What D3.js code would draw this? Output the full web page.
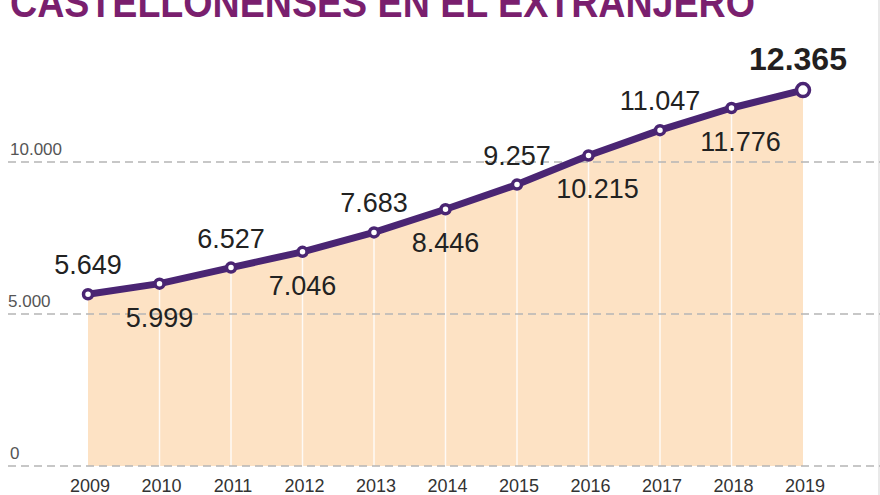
<!DOCTYPE html>
<html><head><meta charset="utf-8">
<script src="https://cdn.jsdelivr.net/npm/d3@7"></script>
<style>body{margin:0;background:#fff}svg{display:block}</style>
</head><body>
<svg id="c" width="880" height="495"></svg>
<script>
const title = "CASTELLONENSES EN EL EXTRANJERO";
const years = ["2009","2010","2011","2012","2013","2014","2015","2016","2017","2018","2019"];
const values = [5649,5999,6527,7046,7683,8446,9257,10215,11047,11776,12365];
const valueLabels = ["5.649","5.999","6.527","7.046","7.683","8.446","9.257","10.215","11.047","11.776","12.365"];
const yTicks = [0,5000,10000];
const yTickLabels = ["0","5.000","10.000"];

const svg = d3.select("#c");
const W = 880, H = 495;
const x = d3.scalePoint().domain(years).range([88, 803]);
const y = d3.scaleLinear().domain([0, 10000]).range([466, 162]);

// right frame line
svg.append("line").attr("x1",879).attr("x2",879).attr("y1",0).attr("y2",H)
  .attr("stroke","#e2e2e2").attr("stroke-width",1.5);

// title
svg.append("text").attr("x",10).attr("y",17).text(title)
  .attr("font-family","'Liberation Sans Narrow','Liberation Sans',Arial,sans-serif")
  .attr("font-weight","bold").attr("font-size",42).attr("fill","#7a1f6e")
  .attr("textLength",745).attr("lengthAdjust","spacingAndGlyphs");

const data = years.map((yr,i)=>({yr, v:values[i], lab:valueLabels[i], i}));

// area
svg.append("path").datum(data)
  .attr("d", d3.area().x(d=>x(d.yr)).y0(y(0)).y1(d=>y(d.v)))
  .attr("fill","#fde2c4");

// separators
svg.selectAll("line.sep").data(data.slice(1,-1)).join("line").attr("class","sep")
  .attr("x1",d=>x(d.yr)).attr("x2",d=>x(d.yr))
  .attr("y1",d=>y(d.v)).attr("y2",y(0))
  .attr("stroke","#fff").attr("stroke-width",1.5).attr("opacity",0.85);

// gridlines
svg.selectAll("line.grid").data(yTicks).join("line").attr("class","grid")
  .attr("x1",8).attr("x2",880).attr("y1",d=>y(d)).attr("y2",d=>y(d))
  .attr("stroke","#b5b5b5").attr("stroke-width",1.5).attr("stroke-dasharray","8,5");

// y tick labels
svg.selectAll("text.yt").data(yTicks).join("text").attr("class","yt")
  .attr("x",(d,i)=>i===1?8:10).attr("y",d=>y(d)-7)
  .text((d,i)=>yTickLabels[i])
  .attr("font-family","'Liberation Sans',Arial,sans-serif").attr("font-size",17).attr("fill","#555");

// x labels
svg.selectAll("text.xt").data(years).join("text").attr("class","xt")
  .attr("x",d=>x(d)+2).attr("y",492).attr("text-anchor","middle").text(d=>d)
  .attr("font-family","'Liberation Sans',Arial,sans-serif").attr("font-size",18).attr("fill","#333");

// line
svg.append("path").datum(data)
  .attr("d", d3.line().x(d=>x(d.yr)).y(d=>y(d.v)))
  .attr("fill","none").attr("stroke","#4a2573").attr("stroke-width",7).attr("stroke-linejoin","round");

// markers
svg.selectAll("circle.m").data(data).join("circle").attr("class","m")
  .attr("cx",d=>x(d.yr)).attr("cy",d=>y(d.v))
  .attr("r",(d,i)=>i===data.length-1?6.5:4.5)
  .attr("fill","#fff").attr("stroke","#4a2573").attr("stroke-width",3.5);

// value labels
const last = data.length-1;
svg.selectAll("text.vl").data(data).join("text").attr("class","vl")
  .attr("x",d=>x(d.yr) + (d.i%2===1 && d.v>=10000 ? 9 : 0) - (d.i===last?5:0))
  .attr("y",d=>y(d.v) + (d.i%2===0 ? (d.i===last? -20 : -20) : 43))
  .attr("text-anchor","middle").text(d=>d.lab)
  .attr("font-family","'Liberation Sans',Arial,sans-serif")
  .attr("font-weight",d=>d.i===last?"bold":"normal")
  .attr("font-size",d=>d.i===last?32:27)
  .attr("fill",d=>d.i===last?"#231f20":"#222");
</script>
</body></html>
